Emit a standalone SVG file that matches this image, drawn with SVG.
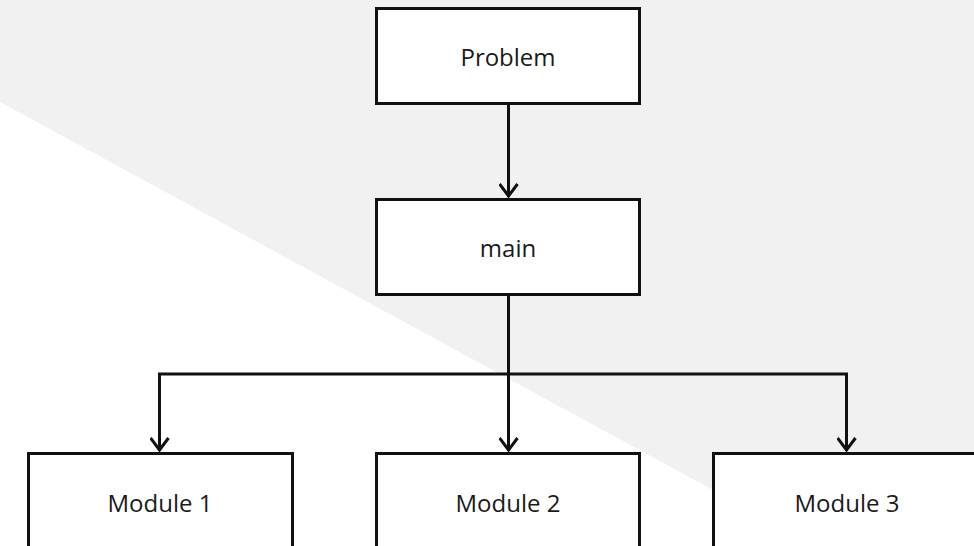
<svg xmlns="http://www.w3.org/2000/svg" width="974" height="546" viewBox="0 0 974 546">
<defs>
<style>
.box{fill:#fff;stroke:#111;stroke-width:3}
.lbl{font-family:"Open Sans","Liberation Sans",sans-serif;font-size:24px;fill:#1a1a1a;text-anchor:middle}
.conn{fill:none;stroke:#111;stroke-width:3}
</style>
<marker id="arr" viewBox="0 0 16 20" refX="15" refY="10" markerWidth="16" markerHeight="20" markerUnits="userSpaceOnUse" orient="auto">
<path d="M2,1 L14,10 L2,19" fill="none" stroke="#111" stroke-width="3"/>
</marker>
</defs>
<rect width="974" height="546" fill="#fff"/>
<polygon points="0,0 974,0 974,546 816,546 0,102" fill="#f1f1f1"/>
<g id="connectors">
<path class="conn" d="M508.5,103 V197" marker-end="url(#arr)"/>
<path class="conn" d="M508.5,294 V451" marker-end="url(#arr)"/>
<path class="conn" d="M508.5,374 H159.5 V451" marker-end="url(#arr)"/>
<path class="conn" d="M508.5,374 H846.5 V451" marker-end="url(#arr)"/>
</g>
<g id="problem"><rect class="box" x="376.5" y="8.5" width="263" height="95"/><text class="lbl" x="508" y="66">Problem</text></g>
<g id="main"><rect class="box" x="376.5" y="199.5" width="263" height="95"/><text class="lbl" x="508" y="257">main</text></g>
<g id="module1"><rect class="box" x="28.5" y="453.5" width="264" height="110"/><text class="lbl" x="160" y="512">Module 1</text></g>
<g id="module2"><rect class="box" x="376.5" y="453.5" width="263" height="110"/><text class="lbl" x="508" y="512">Module 2</text></g>
<g id="module3"><rect class="box" x="713.5" y="453.5" width="275" height="110"/><text class="lbl" x="847" y="512">Module 3</text></g>
</svg>
